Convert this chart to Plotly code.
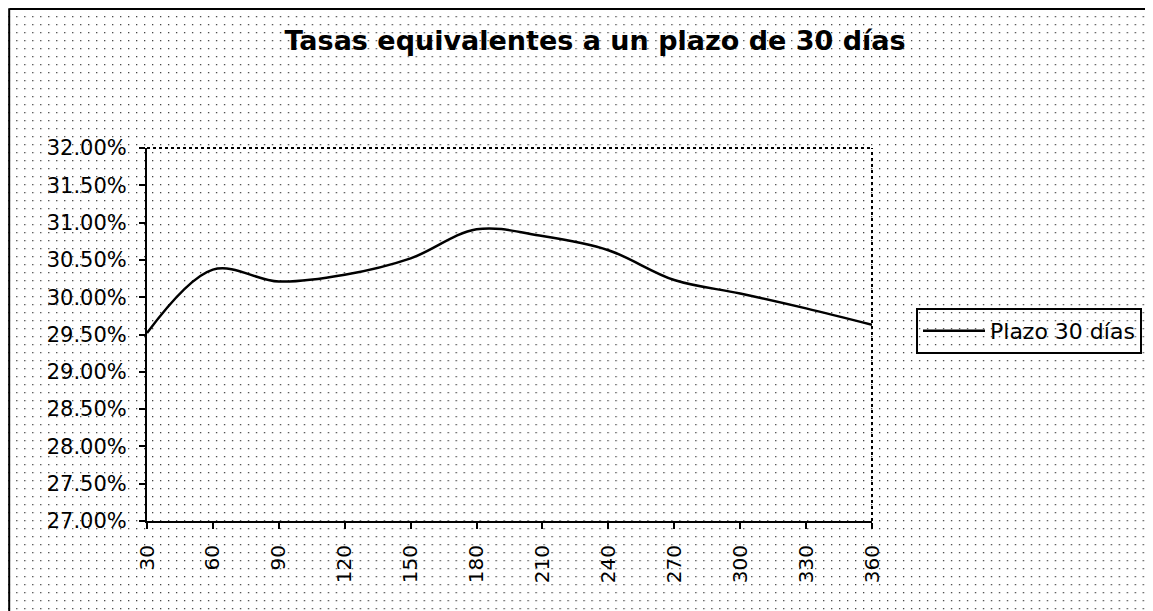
import base64
import plotly.graph_objects as go

# Data
plazos = [30, 60, 90, 120, 150, 180, 210, 240, 270, 300, 330, 360]
tasas = [0.2952, 0.3037, 0.3021, 0.3030, 0.3052, 0.3091, 0.3082, 0.3063, 0.3023, 0.3005, 0.2985, 0.2963]
serie = "Plazo 30 días"
titulo = "Tasas equivalentes a un plazo de 30 días"
y_ticks = [0.27 + 0.005 * i for i in range(11)]

PAGE_OFF = 8  # default body margin of the html page
W, H = 1153 - PAGE_OFF, 611 - PAGE_OFF
# target plot-area edges in page pixels
L, R, T, B = 147, 873, 148, 521

def px(x):
    return (x - L) / (R - L)

def py(y):
    return (B - y) / (B - T)

# dotted (halftone-like) background texture
svg = (
    '<svg xmlns="http://www.w3.org/2000/svg" width="1200" height="650">'
    '<defs><pattern id="d" width="8" height="8" patternUnits="userSpaceOnUse">'
    '<rect x="0" y="0" width="1.3" height="1.3" fill="#444"/>'
    '</pattern></defs>'
    '<rect width="1200" height="650" fill="white"/>'
    '<rect width="1200" height="650" fill="url(#d)"/>'
    '</svg>'
)
bg_uri = "data:image/svg+xml;base64," + base64.b64encode(svg.encode()).decode()

fig = go.Figure()
fig.add_trace(go.Scatter(
    x=plazos, y=tasas, mode="lines", name=serie,
    line=dict(color="black", width=2.5, shape="spline", smoothing=1.0),
))

font_main = "DejaVu Sans, Verdana, sans-serif"

fig.update_layout(
    width=W, height=H,
    margin=dict(l=L - PAGE_OFF, r=W - (R - PAGE_OFF), t=T - PAGE_OFF, b=H - (B - PAGE_OFF), pad=0),
    paper_bgcolor="white", plot_bgcolor="white",
    title=dict(text="<b>" + titulo + "</b>", x=(595 - PAGE_OFF) / W, xanchor="center",
               y=1 - (41 - PAGE_OFF) / H, yanchor="middle",
               font=dict(family=font_main, size=27, color="black")),
    showlegend=True,
    legend=dict(x=px(916), xanchor="left", y=py(331), yanchor="middle",
                xref="paper", yref="paper",
                bgcolor="rgba(255,255,255,0)", bordercolor="black", borderwidth=2,
                font=dict(family=font_main, size=22, color="black"),
                itemwidth=62, tracegroupgap=0),
    xaxis=dict(range=[30, 360], tickvals=plazos, ticktext=[str(p) for p in plazos],
               tickangle=-90, showgrid=False, zeroline=False,
               showline=True, linecolor="black", linewidth=2,
               ticks="outside", ticklen=6, tickwidth=2, tickcolor="black",
               ticklabelstandoff=8,
               tickfont=dict(family=font_main, size=20, color="black")),
    yaxis=dict(range=[0.27, 0.32], tickvals=y_ticks, tickformat=".2%",
               showgrid=False, zeroline=False,
               showline=True, linecolor="black", linewidth=2,
               ticks="outside", ticklen=6, tickwidth=2, tickcolor="black",
               ticklabelstandoff=8,
               tickfont=dict(family=font_main, size=21, color="black")),
    images=[dict(source=bg_uri, xref="paper", yref="paper",
                 x=px(0), y=py(0), sizex=1200 / (R - L), sizey=650 / (B - T),
                 xanchor="left", yanchor="top", sizing="stretch", layer="below")],
    shapes=[
        # dotted top and right plot-area borders
        dict(type="line", xref="paper", yref="paper", x0=0, x1=1, y0=1, y1=1,
             line=dict(color="black", width=2, dash="dot")),
        dict(type="line", xref="paper", yref="paper", x0=1, x1=1, y0=0, y1=1,
             line=dict(color="black", width=2, dash="dot")),
        # outer chart frame
        dict(type="line", xref="paper", yref="paper", x0=px(9), x1=px(9), y0=py(9), y1=py(640),
             line=dict(color="black", width=2)),
        dict(type="line", xref="paper", yref="paper", x0=px(9), x1=px(1170), y0=py(9), y1=py(9),
             line=dict(color="black", width=2)),
    ],
)

fig.write_html("out.html")
